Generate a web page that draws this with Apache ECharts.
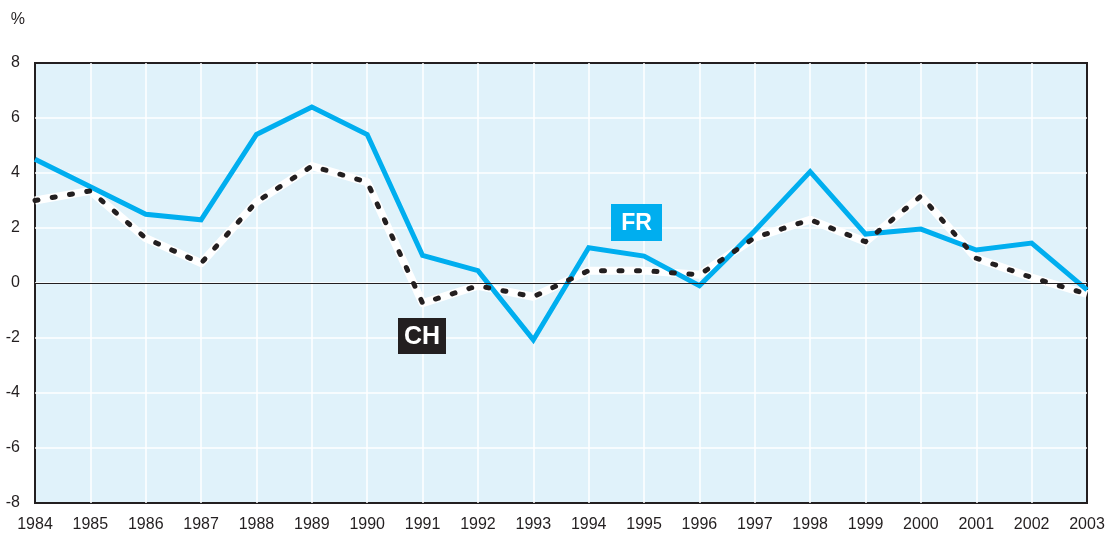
<!DOCTYPE html>
<html>
<head>
<meta charset="utf-8">
<script src="https://cdn.jsdelivr.net/npm/echarts@6/dist/echarts.min.js"></script>
<style>
  html, body { margin: 0; padding: 0; background: #fff; }
  #main { width: 1105px; height: 535px; }
</style>
</head>
<body>
<div id="main"></div>
<script>
// 数据
const years = ['1984', '1985', '1986', '1987', '1988', '1989', '1990', '1991', '1992', '1993',
    '1994', '1995', '1996', '1997', '1998', '1999', '2000', '2001', '2002', '2003']
const fr = [4.5, 3.5, 2.5, 2.3, 5.4, 6.4, 5.4, 1.0, 0.45, -2.07,
    1.28, 0.98, -0.1, 1.9, 4.05, 1.78, 1.96, 1.2, 1.45, -0.25]
const ch = [3.0, 3.35, 1.63, 0.72, 2.95, 4.25, 3.67, -0.73, -0.1, -0.5,
    0.45, 0.45, 0.3, 1.65, 2.3, 1.5, 3.16, 0.9, 0.2, -0.4]
const yTicks = [-8, -6, -4, -2, 0, 2, 4, 6, 8]

const font = "'Liberation Sans', Arial, sans-serif"
const blue = '#00aeef'
const dark = '#231f20'

var myChart = echarts.init(document.getElementById('main'))

// 标签框
function tag(text, x, y, w, h, bg, size) {
    return [
        {
            type: 'rect', left: x, top: y, z: 100,
            shape: { width: w, height: h }, style: { fill: bg }
        },
        {
            type: 'text', x: x + w / 2, y: y + h / 2 + 1, z: 101,
            style: {
                text: text, fontFamily: font, fontWeight: 'bold', fontSize: size,
                fill: '#ffffff', align: 'center', verticalAlign: 'middle'
            }
        }
    ]
}

var option = {
    animation: false,
    grid: {
        left: 35, right: 18, top: 63, bottom: 32,
        outerBoundsMode: 'none',
        containLabel: false,
        show: true,
        backgroundColor: '#e0f2fa',
        borderColor: dark,
        borderWidth: 2
    },
    xAxis: {
        type: 'category',
        data: years,
        boundaryGap: false,
        axisLine: { show: false, onZero: false },
        axisTick: { show: false },
        axisLabel: { fontFamily: font, fontSize: 16, color: dark, margin: 14 },
        splitLine: {
            show: true,
            showMinLine: false,
            showMaxLine: false,
            lineStyle: { color: '#ffffff', width: 1.5 }
        }
    },
    yAxis: {
        type: 'value',
        min: yTicks[0],
        max: yTicks[yTicks.length - 1],
        interval: 2,
        name: '%',
        nameLocation: 'end',
        nameGap: 35,
        nameTextStyle: { fontFamily: font, fontSize: 16, color: dark, align: 'right', padding: [0, 10, 0, 0] },
        axisLine: { show: false },
        axisTick: { show: false },
        axisLabel: { fontFamily: font, fontSize: 16, color: dark, margin: 15 },
        splitLine: {
            show: true,
            showMinLine: false,
            showMaxLine: false,
            lineStyle: { color: '#ffffff', width: 1.5 }
        }
    },
    series: [
        {
            // 零线
            type: 'line',
            data: fr,
            symbol: 'none',
            lineStyle: { width: 0, opacity: 0 },
            silent: true,
            z: 1,
            markLine: {
                silent: true,
                symbol: 'none',
                label: { show: false },
                lineStyle: { color: dark, width: 1, type: 'solid' },
                data: [{ yAxis: 0 }]
            }
        },
        {
            name: 'CH white',
            type: 'line',
            data: ch,
            symbol: 'none',
            lineStyle: { color: '#ffffff', width: 8, join: 'round' },
            z: 2
        },
        {
            name: 'FR',
            type: 'line',
            data: fr,
            symbol: 'none',
            lineStyle: { color: blue, width: 5, join: 'miter' },
            z: 3
        },
        {
            name: 'CH',
            type: 'line',
            data: ch,
            symbol: 'none',
            lineStyle: { color: dark, width: 5, type: [3, 14.5], cap: 'round', join: 'round' },
            z: 4
        }
    ],
    graphic: [].concat(
        tag('FR', 611, 204, 51, 37, blue, 23),
        tag('CH', 398, 318, 48, 36, dark, 25)
    )
}

myChart.setOption(option)
</script>
</body>
</html>
